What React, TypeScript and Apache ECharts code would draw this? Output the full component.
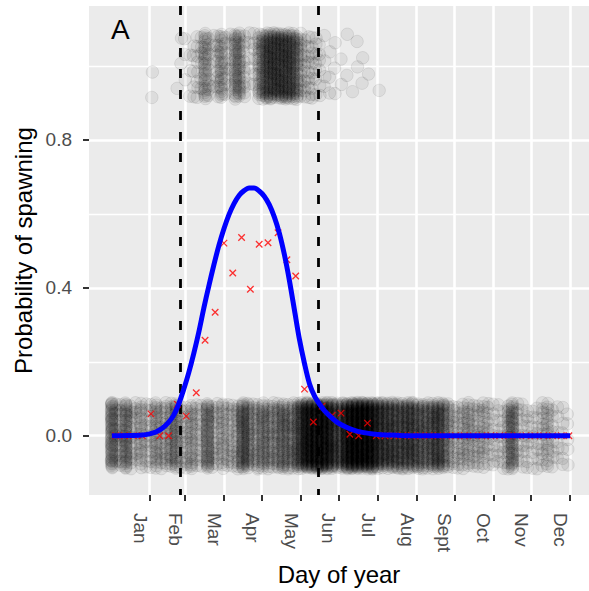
import React, { useEffect, useRef } from 'react';
import * as echarts from 'echarts';

// ---------- axis / reference data ----------
const monthDays = [31, 59, 90, 120, 151, 181, 212, 243, 273, 304, 334, 365];
const monthLabels = ['Jan', 'Feb', 'Mar', 'Apr', 'May', 'Jun', 'Jul', 'Aug', 'Sept', 'Oct', 'Nov', 'Dec'];
const yTicks = [0, 0.4, 0.8];
const yMinorGrid = [0.2, 0.6, 1.0];
const seasonBounds = [55, 165];

// ---------- weekly observed proportion (red x) ----------
const weekDays = [4, 11, 18, 25, 32, 39, 46, 53, 60, 68, 75, 83, 90, 97, 104, 111, 118, 125, 133, 140, 147, 154, 161, 168, 176, 183, 190, 197, 204, 211, 218, 225, 232, 239, 246, 253, 260, 267, 274, 281, 288, 295, 302, 309, 316, 323, 330, 337, 344, 351, 358, 364];
const weekProp = [0, 0, 0, 0, 0.059, 0, 0, 0.085, 0.053, 0.116, 0.258, 0.334, 0.521, 0.44, 0.536, 0.396, 0.518, 0.522, 0.549, 0.476, 0.432, 0.126, 0.037, 0.08, 0.055, 0.061, 0.004, 0, 0.034, 0, 0, 0, 0, 0, 0, 0, 0, 0, 0, 0, 0, 0, 0, 0, 0, 0, 0, 0, 0, 0, 0, 0];

// ---------- fitted curve (blue) ----------
const curveDays = [1, 15, 25, 31, 36, 41, 46, 50, 54, 58, 62, 66, 70, 74, 78, 82, 86, 90, 94, 98, 102, 106, 110, 114, 118, 122, 126, 130, 134, 138, 142, 146, 150, 154, 158, 162, 166, 170, 175, 180, 186, 193, 200, 210, 222, 240, 365];
const curveProb = [0, 0.0005, 0.002, 0.005, 0.01, 0.02, 0.036, 0.055, 0.085, 0.125, 0.17, 0.222, 0.28, 0.345, 0.405, 0.462, 0.515, 0.56, 0.598, 0.628, 0.65, 0.663, 0.67, 0.67, 0.662, 0.648, 0.625, 0.592, 0.548, 0.49, 0.42, 0.34, 0.26, 0.195, 0.14, 0.107, 0.085, 0.067, 0.05, 0.036, 0.025, 0.015, 0.009, 0.004, 0.0015, 0, 0];

// ---------- raw observations (sampling day, number of fish) ----------
const zeroDays = [1, 4, 8, 12, 16, 20, 24, 28, 32, 36, 40, 44, 48, 52, 56, 60, 64, 68, 72, 77, 81, 85, 89, 93, 97, 101, 105, 109, 113, 117, 121, 125, 129, 133, 137, 141, 145, 149, 152, 156, 160, 164, 168, 172, 176, 180, 184, 188, 192, 196, 200, 204, 208, 212, 216, 220, 224, 228, 232, 236, 240, 244, 248, 252, 256, 260, 264, 268, 272, 276, 280, 284, 288, 292, 296, 300, 304, 308, 312, 316, 319, 323, 327, 331, 335, 339, 343, 347, 351, 355, 359, 363];
const zeroCounts = [60, 10, 13, 48, 15, 10, 24, 10, 13, 30, 13, 20, 24, 36, 13, 15, 26, 13, 13, 50, 15, 13, 24, 15, 15, 20, 52, 36, 18, 24, 36, 24, 24, 28, 38, 28, 30, 38, 55, 80, 75, 80, 80, 75, 65, 38, 55, 80, 85, 85, 85, 85, 80, 60, 48, 52, 46, 46, 42, 50, 46, 42, 36, 36, 42, 52, 40, 24, 16, 14, 18, 22, 14, 16, 18, 12, 10, 9, 8, 20, 45, 10, 9, 10, 9, 8, 12, 20, 8, 6, 6, 5];
const oneDays = [33, 53, 56, 59, 63, 66, 69, 72, 75, 78, 82, 85, 88, 91, 95, 99, 102, 106, 110, 114, 118, 121, 124, 127, 130, 133, 136, 139, 142, 145, 148, 151, 154, 157, 160, 163, 166, 170, 174, 178, 183, 188, 192, 196, 200, 205, 213];
const oneCounts = [2, 1, 2, 3, 3, 5, 8, 6, 32, 10, 4, 10, 30, 8, 5, 32, 28, 12, 5, 6, 24, 32, 36, 38, 38, 38, 38, 38, 36, 34, 28, 14, 10, 9, 10, 7, 6, 4, 3, 3, 2, 2, 1, 2, 2, 1, 1];

// ---------- scale settings ----------
const X_MIN = -17.2;
const X_MAX = 380;
const Y_MIN = -0.1605;
const Y_MAX = 1.1625;
const X_JITTER = 0.4;
const Y_JITTER = 0.09;

const FONT = '"Liberation Sans", Arial, Helvetica, sans-serif';

const frac = (v: number) => v - Math.floor(v);

// deterministic (quasi-random) spread of the observations, like geom_jitter
function jitter(days: number[], counts: number[], outcome: number, seed: number) {
  const pts: number[][] = [];
  days.forEach((d, i) => {
    const cy = frac(seed + i * 0.7548776662);
    const cx = frac(seed * 1.7 + i * 0.5698402910);
    for (let j = 0; j < counts[i]; j++) {
      const u = frac(cy + j * 0.6180339887);
      const v = frac(cx + j * 0.4142135624);
      pts.push([d + (v * 2 - 1) * X_JITTER, outcome + (u * 2 - 1) * Y_JITTER]);
    }
  });
  return pts;
}

export default function App() {
  const ref = useRef<HTMLDivElement>(null);

  useEffect(() => {
    if (!ref.current) return;
    const chart = echarts.init(ref.current, undefined, { renderer: 'svg' });

    const zeroPts = jitter(zeroDays, zeroCounts, 0, 0.13);
    const onePts = jitter(oneDays, oneCounts, 1, 0.41);

    const pointStyle = {
      color: 'rgba(0,0,0,0.08)',
      borderColor: 'rgba(0,0,0,0.1)',
      borderWidth: 1,
    };

    const option: any = {
      animation: false,
      backgroundColor: '#FFFFFF',
      title: {
        text: 'A',
        left: 111,
        top: 15,
        padding: 0,
        textStyle: { fontSize: 28, fontWeight: 'normal', color: '#000000', fontFamily: FONT },
      },
      grid: {
        left: 89,
        right: 0,
        top: 6,
        bottom: 96,
        show: true,
        backgroundColor: '#EBEBEB',
        borderWidth: 0,
        containLabel: false,
        outerBoundsMode: 'none',
      },
      xAxis: {
        type: 'value',
        min: X_MIN,
        max: X_MAX,
        name: 'Day of year',
        nameLocation: 'middle',
        nameGap: 67,
        nameMoveOverlap: false,
        nameTextStyle: { fontSize: 24, color: '#000000', fontFamily: FONT },
        axisLine: { show: false, onZero: false },
        splitLine: { show: false },
        axisTick: {
          show: true,
          customValues: monthDays,
          length: 6,
          lineStyle: { color: '#333333', width: 2 },
        },
        axisLabel: {
          customValues: monthDays,
          formatter: (v: number) => monthLabels[monthDays.indexOf(v)] ?? '',
          rotate: -90,
          align: 'left',
          verticalAlign: 'top',
          margin: 18,
          fontSize: 19,
          color: '#4D4D4D',
          fontFamily: FONT,
        },
      },
      yAxis: {
        type: 'value',
        min: Y_MIN,
        max: Y_MAX,
        name: 'Probability of spawning',
        nameLocation: 'middle',
        nameGap: 54,
        nameMoveOverlap: false,
        nameTextStyle: { fontSize: 24, color: '#000000', fontFamily: FONT },
        axisLine: { show: false, onZero: false },
        splitLine: { show: false },
        axisTick: {
          show: true,
          customValues: yTicks,
          length: 6,
          lineStyle: { color: '#333333', width: 2 },
        },
        axisLabel: {
          customValues: yTicks,
          formatter: (v: number) => v.toFixed(1),
          margin: 17,
          fontSize: 19,
          color: '#4D4D4D',
          fontFamily: FONT,
        },
      },
      series: [
        {
          name: 'minorGrid',
          type: 'lines',
          coordinateSystem: 'cartesian2d',
          silent: true,
          z: 1,
          lineStyle: { color: '#FFFFFF', width: 1.3, opacity: 1 },
          data: yMinorGrid.map((y) => ({ coords: [[X_MIN, y], [X_MAX, y]] })),
        },
        {
          name: 'majorGrid',
          type: 'lines',
          coordinateSystem: 'cartesian2d',
          silent: true,
          z: 1,
          lineStyle: { color: '#FFFFFF', width: 2.6, opacity: 1 },
          data: [
            ...yTicks.map((y) => ({ coords: [[X_MIN, y], [X_MAX, y]] })),
            ...monthDays.map((x) => ({ coords: [[x, Y_MIN], [x, Y_MAX]] })),
          ],
        },
        {
          name: 'notSpawning',
          type: 'scatter',
          silent: true,
          z: 2,
          symbol: 'circle',
          symbolSize: 12.5,
          itemStyle: pointStyle,
          data: zeroPts,
        },
        {
          name: 'spawning',
          type: 'scatter',
          silent: true,
          z: 2,
          symbol: 'circle',
          symbolSize: 12.5,
          itemStyle: pointStyle,
          data: onePts,
        },
        {
          name: 'season',
          type: 'lines',
          coordinateSystem: 'cartesian2d',
          silent: true,
          z: 3,
          lineStyle: { color: '#000000', width: 2.8, type: [9, 12], opacity: 1 },
          data: seasonBounds.map((x) => ({ coords: [[x, Y_MAX], [x, Y_MIN]] })),
        },
        {
          name: 'weekly',
          type: 'scatter',
          silent: true,
          z: 4,
          symbol: 'path://M0,0L10,10M10,0L0,10',
          symbolSize: 6.5,
          itemStyle: { color: 'none', borderColor: '#FF0000', borderWidth: 1.3 },
          data: weekDays.map((d, i) => [d, weekProp[i]]),
        },
        {
          name: 'fit',
          type: 'line',
          silent: true,
          z: 5,
          showSymbol: false,
          symbol: 'none',
          smooth: 0.3,
          lineStyle: { color: '#0000FF', width: 5, cap: 'butt' },
          data: curveDays.map((d, i) => [d, curveProb[i]]),
        },
      ],
    };

    chart.setOption(option);
    return () => chart.dispose();
  }, []);

  return (
    <div
      ref={ref}
      style={{ position: 'fixed', left: 0, top: 0, width: 589, height: 591, background: '#FFFFFF' }}
    />
  );
}
